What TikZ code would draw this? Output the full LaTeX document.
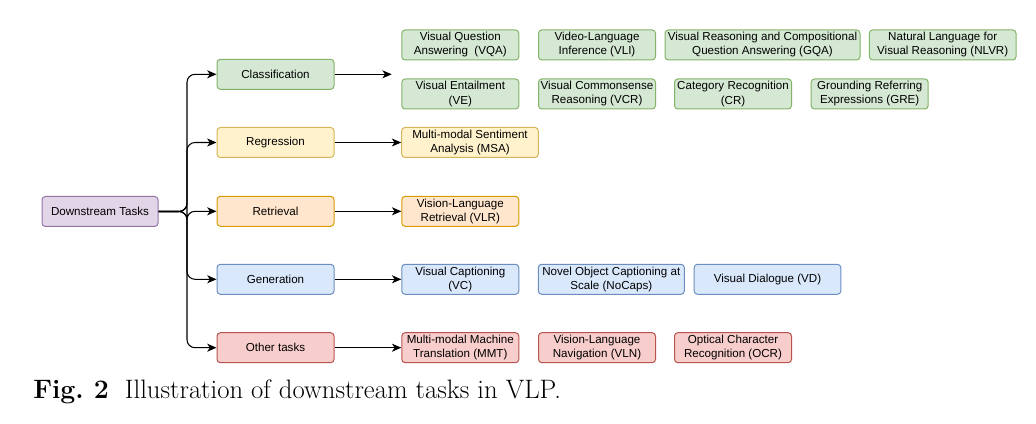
\documentclass[tikz,border=0pt]{standalone}
\usepackage{fontspec}
\newfontfamily\boxfont{Liberation Sans}
\usepackage{tikz}
\usetikzlibrary{arrows.meta}

\definecolor{grnfill}{HTML}{D5E8D4}\definecolor{grnline}{HTML}{82B366}
\definecolor{ylwfill}{HTML}{FFF2CC}\definecolor{ylwline}{HTML}{D6B656}
\definecolor{orgfill}{HTML}{FFE6CC}\definecolor{orgline}{HTML}{D79B00}
\definecolor{blufill}{HTML}{DAE8FC}\definecolor{bluline}{HTML}{6C8EBF}
\definecolor{redfill}{HTML}{F8CECC}\definecolor{redline}{HTML}{B85450}
\definecolor{prpfill}{HTML}{E1D5E7}\definecolor{prpline}{HTML}{9673A6}

\tikzset{
  task/.style={draw, rounded corners=2.5pt, line width=0.75pt, align=center,
    inner sep=0pt, minimum height=22.5pt, minimum width=87.75pt,
    font=\boxfont\fontsize{8.7}{10.5}\selectfont},
  grn/.style={task, fill=grnfill, draw=grnline},
  ylw/.style={task, fill=ylwfill, draw=ylwline},
  org/.style={task, fill=orgfill, draw=orgline},
  blu/.style={task, fill=blufill, draw=bluline},
  red/.style={task, fill=redfill, draw=redline},
  prp/.style={task, fill=prpfill, draw=prpline},
  arr/.style={-{Stealth[length=7pt,width=6pt,inset=2pt]}, line width=0.8pt},
}

\begin{document}
\begin{tikzpicture}[x=0.75pt,y=-0.75pt]
    \useasboundingbox (0,0) rectangle (1036,424);
    \coordinate (br) at (187,211.5);
    \coordinate (clsend) at (391.7,74.3);
    % root and categories
    \node[prp, minimum width=87pt] (dt) at (100,211.5) {Downstream Tasks};
    \node[grn] (cls) at (275.5,74.3) {Classification};
    \node[ylw] (reg) at (275.5,142.5) {Regression};
    \node[org] (ret) at (275.5,211.3) {Retrieval};
    \node[blu] (gen) at (275.5,279.3) {Generation};
    \node[red] (oth) at (275.5,347.7) {Other tasks};
    % classification tasks
    \node[grn] (vqa) at (460.3,45) {Visual Question\\Answering~ (VQA)};
    \node[grn] (vli) at (597,45) {Video-Language\\Inference (VLI)};
    \node[grn, minimum width=146.25pt] (gqa) at (762.5,45) {Visual Reasoning and Compositional\\Question Answering (GQA)};
    \node[grn, minimum width=110pt] (nlvr) at (942.7,45) {Natural Language for\\Visual Reasoning (NLVR)};
    \node[grn] (ve) at (460.3,94) {Visual Entailment\\(VE)};
    \node[grn] (vcr) at (597,94) {Visual Commonsense\\Reasoning (VCR)};
    \node[grn] (cr) at (733,94) {Category Recognition\\(CR)};
    \node[grn] (gre) at (869.7,94) {Grounding Referring\\Expressions (GRE)};
    % other rows
    \node[ylw, minimum width=102.5pt] (msa) at (470,142.5) {Multi-modal Sentiment\\Analysis (MSA)};
    \node[org] (vlr) at (460.3,211.3) {Vision-Language\\Retrieval (VLR)};
    \node[blu] (vc) at (460.3,279.3) {Visual Captioning\\(VC)};
    \node[blu, minimum width=109.5pt] (nocaps) at (611.3,279.3) {Novel Object Captioning at\\Scale (NoCaps)};
    \node[blu, minimum width=110pt] (vd) at (767.5,279.3) {Visual Dialogue (VD)};
    \node[red] (mmt) at (460.3,347.7) {Multi-modal Machine\\Translation (MMT)};
    \node[red] (vln) at (597,347.7) {Vision-Language\\Navigation (VLN)};
    \node[red] (ocr) at (733,347.7) {Optical Character\\Recognition (OCR)};
    % connectors
    \foreach \c in {cls,reg,ret,gen,oth}
      \draw[arr, rounded corners=6] (dt.east) -- (br) |- (\c.west);
    \draw[arr] (cls.east) -- (clsend);
    \draw[arr] (reg.east) -- (msa.west);
    \draw[arr] (ret.east) -- (vlr.west);
    \draw[arr] (gen.east) -- (vc.west);
    \draw[arr] (oth.east) -- (mmt.west);
    % caption
    \node[anchor=base west, inner sep=0pt, font=\fontsize{20}{24}\selectfont] (cap) at (33,398)
      {\textbf{Fig.\ 2}\hspace{0.6em}Illustration of downstream tasks in VLP.};
\end{tikzpicture}
\end{document}
